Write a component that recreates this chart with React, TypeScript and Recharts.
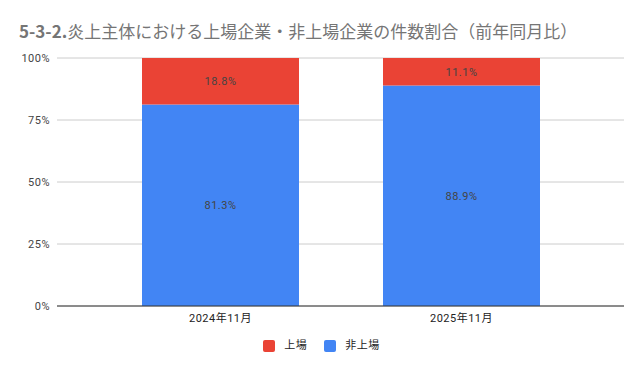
import React from 'react';
import { BarChart, Bar, XAxis, YAxis, CartesianGrid, LabelList, Legend } from 'recharts';

const categories = ['2024年11月', '2025年11月'];
const listed = [18.8, 11.1];
const unlisted = [81.3, 88.9];
const yTicks = [0, 25, 50, 75, 100];

const seriesNames = { listed: '上場', unlisted: '非上場' };
const colors = { listed: '#ea4335', unlisted: '#4285f4' };

const data = categories.map((c, i) => ({ name: c, listed: listed[i], unlisted: unlisted[i] }));

const FONT = "Roboto, 'Noto Sans CJK JP', sans-serif";

const LegendContent = () => {
  const items = [
    { key: 'listed', label: seriesNames.listed, color: colors.listed },
    { key: 'unlisted', label: seriesNames.unlisted, color: colors.unlisted },
  ];
  return (
    <div style={{ display: 'flex', justifyContent: 'center', alignItems: 'center', fontFamily: FONT, fontSize: 11, color: '#222', letterSpacing: 0.5 }}>
      {items.map((it, i) => (
        <div key={it.key} style={{ display: 'flex', alignItems: 'center', marginLeft: i === 0 ? 0 : 17 }}>
          <span style={{ display: 'inline-block', width: 12, height: 12, borderRadius: 2, background: it.color, marginRight: 9 }} />
          <span style={{ lineHeight: '14px' }}>{it.label}</span>
        </div>
      ))}
    </div>
  );
};

export default function App() {
  return (
    <div style={{ position: 'relative', width: 643, height: 371, background: '#fff', overflow: 'hidden' }}>
      <style>{`body{margin:0;}`}</style>
      <div
        style={{
          position: 'absolute',
          left: 19,
          top: 21,
          fontFamily: "'Noto Sans CJK JP', Roboto, sans-serif",
          fontSize: 17,
          lineHeight: '20px',
          color: '#757575',
          whiteSpace: 'nowrap',
          zIndex: 2,
        }}
      >
        <span style={{ fontWeight: 700 }}>5-3-2.</span>
        <span>炎上主体における上場企業・非上場企業の件数割合（前年同月比）</span>
      </div>
      <BarChart
        width={643}
        height={371}
        data={data}
        margin={{ top: 58, right: 19, bottom: 35, left: 0 }}
      >
        <CartesianGrid vertical={false} stroke="#cccccc" />
        <XAxis
          dataKey="name"
          padding={{ left: 43, right: 42 }}
          tickLine={false}
          axisLine={{ stroke: '#333333' }}
          height={30}
          tick={{ fill: '#222', fontSize: 11, fontFamily: FONT, letterSpacing: 0.5 }}
        />
        <YAxis
          width={57}
          domain={[0, 100]}
          ticks={yTicks}
          allowDataOverflow
          axisLine={false}
          tickLine={false}
          tickMargin={1}
          tickFormatter={(v) => `${v}%`}
          tick={{ fill: '#444', fontSize: 11, fontFamily: FONT, letterSpacing: 0.5 }}
        />
        <Legend
          verticalAlign="middle"
          layout="horizontal"
          align="center"
          wrapperStyle={{ top: 339, left: 0, width: 643 }}
          content={<LegendContent />}
        />
        <Bar dataKey="unlisted" name={seriesNames.unlisted} stackId="a" fill={colors.unlisted} barSize={157} isAnimationActive={false}>
          <LabelList dataKey="unlisted" position="center" fill="#444" fontSize={11} fontFamily={FONT} formatter={(v) => `${v}%`} style={{ letterSpacing: 0.5 }} />
        </Bar>
        <Bar dataKey="listed" name={seriesNames.listed} stackId="a" fill={colors.listed} barSize={157} isAnimationActive={false}>
          <LabelList dataKey="listed" position="center" fill="#444" fontSize={11} fontFamily={FONT} formatter={(v) => `${v}%`} style={{ letterSpacing: 0.5 }} />
        </Bar>
      </BarChart>
    </div>
  );
}
